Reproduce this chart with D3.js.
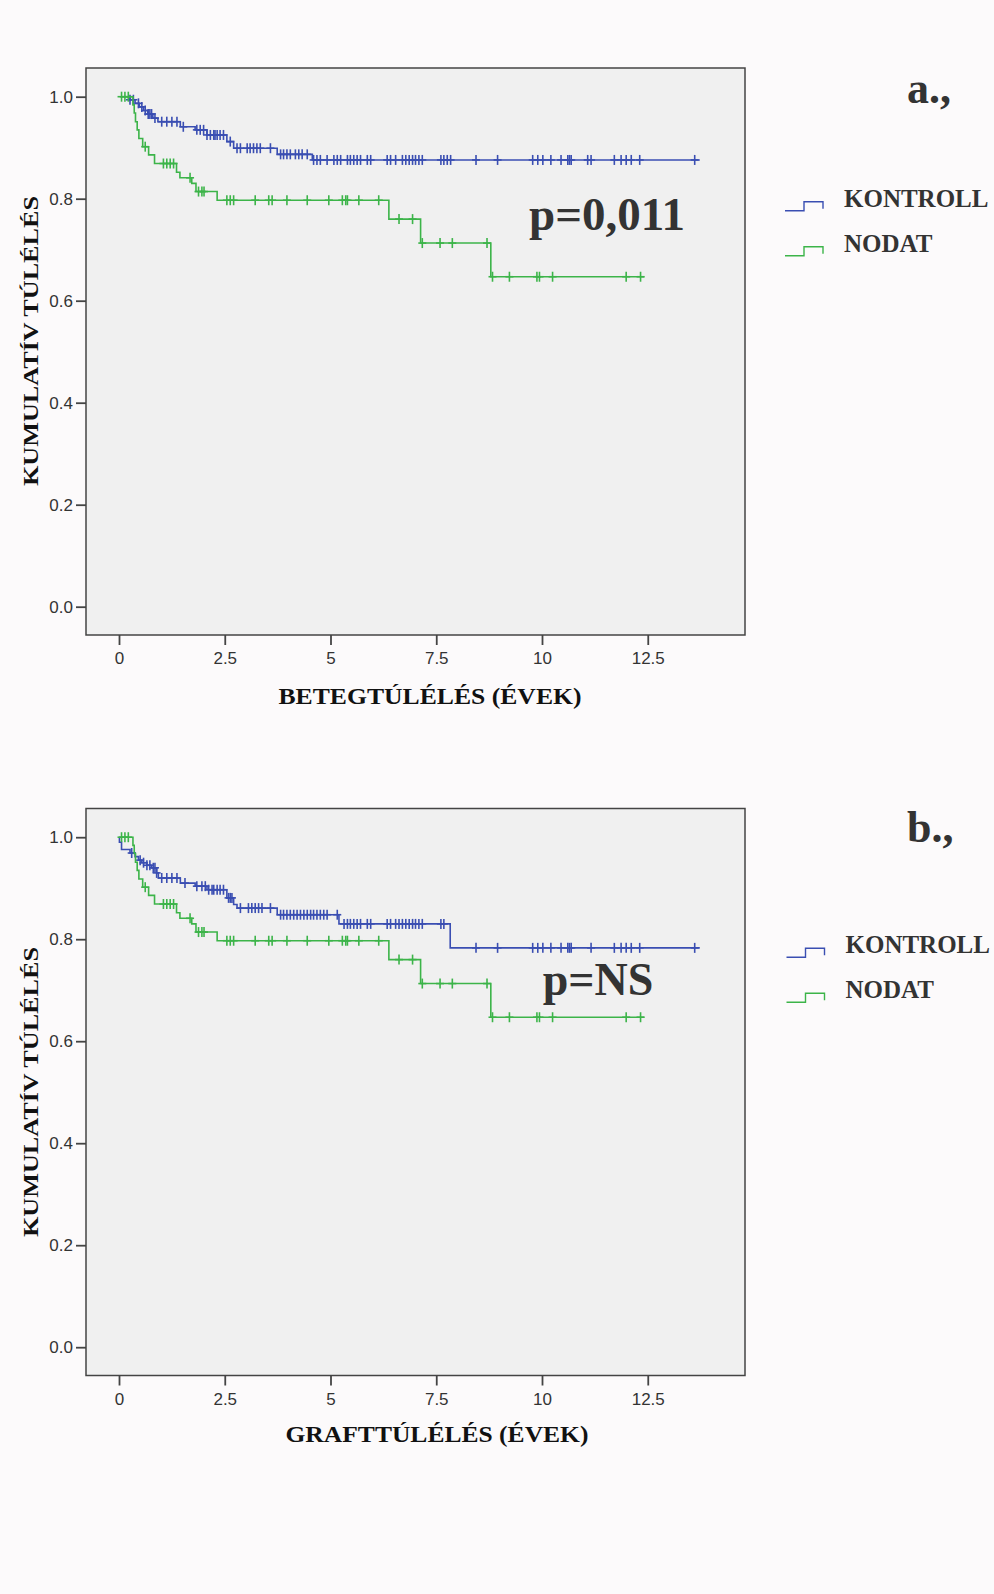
<!DOCTYPE html>
<html>

<head>
    <meta charset="utf-8">
    <title>Kaplan-Meier</title>
    <script src="https://d3js.org/d3.v7.min.js"></script>
    <style>
        body {
            margin: 0;
            background: #fcfafb;
        }

        .tick-label {
            font-family: "Liberation Sans", Arial, sans-serif;
            font-size: 17px;
            fill: #333;
        }

        .title {
            font-family: "Liberation Serif", "Times New Roman", serif;
            font-weight: bold;
            fill: #111;
        }

        .big {
            font-family: "Liberation Serif", "Times New Roman", serif;
            font-weight: bold;
            fill: #333;
        }
    </style>
</head>

<body>
    <svg width="994" height="1594"></svg>
    <script>
        // axis ticks
        var xTicks = [0, 2.5, 5, 7.5, 10, 12.5];
        var yTicks = [0, 0.2, 0.4, 0.6, 0.8, 1.0];
        var groups = ["KONTROLL", "NODAT"];

        // panel a - KONTROLL (patient survival)
        var kontrollATime = [0.26, 0.38, 0.48, 0.58, 0.68, 0.80, 0.92, 1.45, 1.80, 2.08, 2.55, 2.71, 3.74, 4.57];
        var kontrollASurv = [0.994, 0.987, 0.980, 0.973, 0.966, 0.958, 0.951, 0.941, 0.935, 0.925, 0.912, 0.899, 0.887, 0.876];
        var kontrollACens = [0.26, 0.34, 0.46, 0.54, 0.62, 0.69, 0.73, 0.77, 0.85, 1.01, 1.13, 1.25, 1.37, 1.52,
            1.84, 1.92, 2.0, 2.08, 2.16, 2.24, 2.27, 2.32, 2.39, 2.47, 2.63, 2.79, 2.87, 3.03, 3.10, 3.18, 3.26,
            3.34, 3.58, 3.82, 3.89, 3.97, 4.05, 4.17, 4.25, 4.33, 4.45, 4.60, 4.68, 4.76, 4.92, 5.08, 5.16, 5.24,
            5.40, 5.47, 5.55, 5.63, 5.71, 5.87, 5.95, 6.34, 6.42, 6.54, 6.70, 6.78, 6.86, 6.94, 7.01, 7.09, 7.17,
            7.61, 7.68, 7.76, 7.84, 8.44, 8.95, 9.78, 9.90, 10.02, 10.21, 10.45, 10.61, 10.65, 10.69, 11.08, 11.16,
            11.71, 11.87, 11.99, 12.11, 12.31, 13.61];
        var kontrollARange = [0.18, 13.73];

        // NODAT (same in both panels)
        var nodatTime = [0.33, 0.36, 0.39, 0.43, 0.47, 0.56, 0.70, 0.84, 1.36, 1.44, 1.72, 1.82, 2.32, 6.38, 7.13, 8.79];
        var nodatSurv = [0.984, 0.968, 0.951, 0.935, 0.918, 0.902, 0.886, 0.869, 0.852, 0.841, 0.830, 0.814, 0.797, 0.760, 0.713, 0.647];
        var nodatCens = [0.06, 0.14, 0.22, 0.62, 1.05, 1.13, 1.21, 1.29, 1.68, 1.88, 1.96, 2.01, 2.55, 2.63, 2.71,
            3.22, 3.54, 3.62, 3.97, 4.45, 4.96, 5.28, 5.36, 5.40, 5.67, 6.14, 6.62, 6.94, 7.17, 7.59, 7.88, 8.70,
            8.83, 9.23, 9.88, 9.94, 10.25, 11.99, 12.33];
        var nodatRange = [0.02, 12.42];

        // panel b - KONTROLL (graft survival)
        var kontrollBTime = [0.01, 0.06, 0.26, 0.38, 0.46, 0.54, 0.66, 0.77, 0.89, 0.93, 1.45, 1.80, 2.08, 2.55, 2.71, 2.79, 3.74, 5.20, 7.83];
        var kontrollBSurv = [0.990, 0.976, 0.969, 0.962, 0.955, 0.950, 0.945, 0.940, 0.930, 0.920, 0.910, 0.904, 0.897, 0.881, 0.868, 0.861, 0.848, 0.830, 0.783];
        var kontrollBCens = [0.30, 0.50, 0.58, 0.66, 0.73, 0.81, 0.85, 0.89, 1.01, 1.13, 1.25, 1.37, 1.56, 1.84, 1.96,
            2.04, 2.12, 2.20, 2.24, 2.32, 2.39, 2.47, 2.59, 2.63, 2.67, 2.87, 3.06, 3.14, 3.22, 3.30, 3.38, 3.58, 3.82,
            3.89, 3.97, 4.05, 4.13, 4.21, 4.29, 4.37, 4.45, 4.53, 4.60, 4.68, 4.76, 4.84, 4.92, 5.16, 5.32, 5.40, 5.47,
            5.55, 5.63, 5.71, 5.87, 5.95, 6.34, 6.42, 6.54, 6.62, 6.70, 6.78, 6.86, 6.94, 7.01, 7.09, 7.17, 7.61, 7.68,
            8.44, 8.95, 9.78, 9.90, 10.02, 10.21, 10.45, 10.61, 10.65, 10.69, 11.16, 11.71, 11.87, 11.99, 12.11, 12.31, 13.61];
        var kontrollBRange = [0, 13.73];

        var colors = ["#3a4eb2", "#3cb449"];

        var svg = d3.select("svg");

        function survAt (times, surv, t) {
            var i = d3.bisectRight(times, t);
            return i === 0 ? 1 : surv[i - 1];
        }

        function kmPoints (times, surv, range) {
            var pts = [{ t: range[0], s: 1 }];
            times.forEach((t, i) => pts.push({ t: t, s: surv[i] }));
            pts.push({ t: range[1], s: surv[surv.length - 1] });
            return pts;
        }

        function drawPanel (dy, cfg) {
            var g = svg.append("g").attr("transform", "translate(0," + dy + ")");

            var x = d3.scaleLinear().domain([0, 12.5]).range([119, 119 + 12.5 * 42.3]);
            var y = d3.scaleLinear().domain([0, 1]).range([606.7, 96.7]);

            // plot background + frame
            g.append("rect")
                .attr("x", 86).attr("y", 68)
                .attr("width", 659).attr("height", 567)
                .attr("fill", "#f0f0f0")
                .attr("stroke", "#444")
                .attr("stroke-width", 1.5);

            // x axis
            var xAxis = g.append("g").attr("transform", "translate(0,635)")
                .call(d3.axisBottom(x).tickValues(xTicks).tickSize(10).tickSizeOuter(0)
                    .tickFormat(d => String(d)));
            xAxis.select(".domain").remove();
            xAxis.selectAll("line").attr("stroke", "#444").attr("stroke-width", 1.8);
            xAxis.selectAll("text").attr("class", "tick-label").attr("dy", null).attr("y", 29)
                .attr("font-size", null).attr("font-family", null).attr("fill", null);

            // y axis
            var yAxis = g.append("g").attr("transform", "translate(86,0)")
                .call(d3.axisLeft(y).tickValues(yTicks).tickSize(10).tickSizeOuter(0)
                    .tickFormat(d3.format(".1f")));
            yAxis.select(".domain").remove();
            yAxis.selectAll("line").attr("stroke", "#444").attr("stroke-width", 1.8);
            yAxis.selectAll("text").attr("class", "tick-label").attr("x", -13)
                .attr("font-size", null).attr("font-family", null).attr("fill", null);

            // curves
            var line = d3.line()
                .x(d => x(d.t))
                .y(d => y(d.s))
                .curve(d3.curveStepAfter);

            cfg.series.forEach((s, k) => {
                g.append("path")
                    .datum(kmPoints(s.time, s.surv, s.range))
                    .attr("fill", "none")
                    .attr("stroke", colors[k])
                    .attr("stroke-width", 1.6);

                g.select("path:last-of-type").attr("d", line);

                var marks = g.append("g").selectAll("g")
                    .data(s.cens)
                    .enter().append("g")
                    .attr("transform", d => "translate(" + x(d) + "," + y(survAt(s.time, s.surv, d)) + ")");
                marks.append("line")
                    .attr("x1", 0).attr("x2", 0).attr("y1", -5).attr("y2", 5)
                    .attr("stroke", colors[k]).attr("stroke-width", 1.6);
                marks.append("line")
                    .attr("x1", -4).attr("x2", 4).attr("y1", 0).attr("y2", 0)
                    .attr("stroke", colors[k]).attr("stroke-width", 1.6);
            });

            // p value
            g.append("text")
                .attr("class", "big")
                .attr("x", cfg.pX).attr("y", cfg.pY)
                .attr("font-size", cfg.pSize)
                .text(cfg.pText);

            // axis titles
            g.append("text")
                .attr("class", "title")
                .attr("text-anchor", "middle")
                .attr("x", cfg.xTitleX).attr("y", cfg.xTitleY)
                .attr("font-size", 23)
                .attr("textLength", 303)
                .attr("lengthAdjust", "spacingAndGlyphs")
                .text(cfg.xTitle);

            g.append("text")
                .attr("class", "title")
                .attr("text-anchor", "middle")
                .attr("transform", "translate(38," + cfg.yTitleY + ") rotate(-90)")
                .attr("font-size", 22)
                .attr("textLength", 290)
                .attr("lengthAdjust", "spacingAndGlyphs")
                .text("KUMULATÍV TÚLÉLÉS");

            // panel letter
            g.append("text")
                .attr("class", "big")
                .attr("x", 907).attr("y", cfg.letterY)
                .attr("font-size", 44)
                .text(cfg.letter);

            // legend
            var leg = g.append("g").attr("transform", "translate(" + cfg.legX + "," + cfg.legY + ")");
            groups.forEach((name, k) => {
                var yy = k * 45;
                leg.append("path")
                    .attr("d", "M0," + (yy + 4) + "H19V" + (yy - 5) + "H38V" + (yy + 2))
                    .attr("fill", "none")
                    .attr("stroke", colors[k])
                    .attr("stroke-width", 1.4);
                leg.append("text")
                    .attr("class", "big")
                    .attr("x", 59).attr("y", yy)
                    .attr("font-size", 25)
                    .text(name);
            });
        }

        drawPanel(0, {
            series: [
                { time: kontrollATime, surv: kontrollASurv, cens: kontrollACens, range: kontrollARange },
                { time: nodatTime, surv: nodatSurv, cens: nodatCens, range: nodatRange }
            ],
            pText: "p=0,011", pX: 529, pY: 230, pSize: 47,
            xTitle: "BETEGTÚLÉLÉS (ÉVEK)", xTitleX: 430, xTitleY: 704,
            yTitleY: 341,
            letter: "a.,", letterY: 103,
            legX: 785, legY: 206.7
        });

        drawPanel(740.5, {
            series: [
                { time: kontrollBTime, surv: kontrollBSurv, cens: kontrollBCens, range: kontrollBRange },
                { time: nodatTime, surv: nodatSurv, cens: nodatCens, range: nodatRange }
            ],
            pText: "p=NS", pX: 542.7, pY: 995 - 740.5, pSize: 46,
            xTitle: "GRAFTTÚLÉLÉS (ÉVEK)", xTitleX: 437, xTitleY: 1442 - 740.5,
            yTitleY: 1092 - 740.5,
            letter: "b.,", letterY: 841.7 - 740.5,
            legX: 786.5, legY: 953.3 - 740.5
        });
    </script>
</body>

</html>
